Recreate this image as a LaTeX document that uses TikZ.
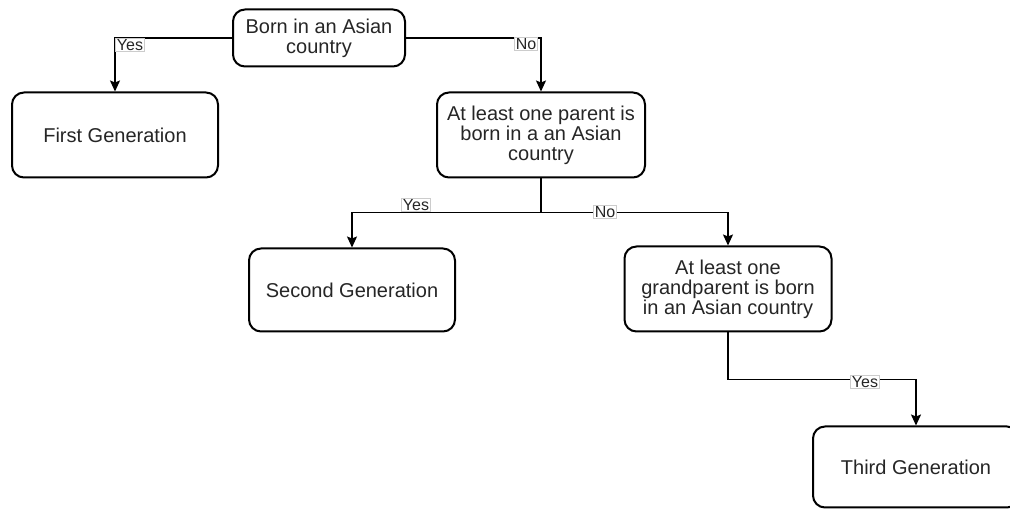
\documentclass[tikz,border=0pt]{standalone}
\usepackage{fontspec}
\setmainfont{Liberation Sans}
\usepackage{tikz}
\usetikzlibrary{arrows.meta}

\tikzset{
  box/.style={draw, line width=2pt, rounded corners=12pt, align=center,
    text=black!85, font=\fontsize{20}{20}\selectfont, inner sep=0pt},
  lbl/.style={draw=black!20, line width=0.6pt, fill=white, inner sep=1.2pt,
    text=black!85, font=\fontsize{16}{16}\selectfont},
  link/.style={line width=1.5pt, -{Stealth[length=11pt, width=10pt, inset=2pt]}}
}

\begin{document}
\begin{tikzpicture}[x=1pt, y=-1pt]
\clip (0,0) rectangle (1010,510);
\fill[white] (0,0) rectangle (1010,510);

% the questions and the three answers
\node[box, minimum width=172pt, minimum height=57pt] (born) at (319,38) {Born in an Asian\\country};
\node[box, minimum width=206pt, minimum height=85pt] (first) at (115,135) {First Generation};
\node[box, minimum width=208pt, minimum height=85pt] (parent) at (541,135) {At least one parent is\\born in a an Asian\\country};
\node[box, minimum width=206pt, minimum height=83pt] (second) at (352,290) {Second Generation};
\node[box, minimum width=207pt, minimum height=85pt] (grand) at (728,289) {At least one\\grandparent is born\\in an Asian country};
\node[box, minimum width=206pt, minimum height=81pt] (third) at (916,467) {Third Generation};

% connectors
\draw[link] (born.west) -| (first.north);
\draw[link] (born.east) -| (parent.north);
\draw[line width=1.5pt] (parent.south) -- ++(0,34) coordinate (pj);
\draw[link] (pj) -| (second.north);
\draw[link] (pj) -| (grand.north);
\draw[link] (grand.south) -- ++(0,47) -| (third.north);

% labels
\node[lbl] (y1) at (130,45) {Yes};
\node[lbl] (n1) at (526,44) {No};
\node[lbl] (y2) at (416,205) {Yes};
\node[lbl] (n2) at (605,212) {No};
\node[lbl] (y3) at (865,382) {Yes};
\end{tikzpicture}
\end{document}
